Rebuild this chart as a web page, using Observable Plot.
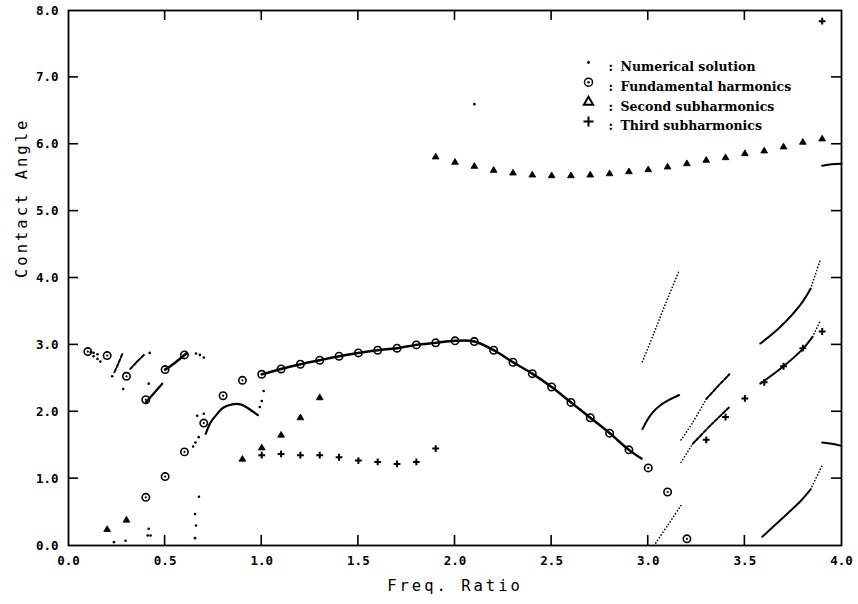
<!DOCTYPE html>
<html><head><meta charset="utf-8">
<script src="https://cdn.jsdelivr.net/npm/d3@7"></script>
<script src="https://cdn.jsdelivr.net/npm/@observablehq/plot@0.6"></script>
<style>body{margin:0;background:#fff}</style>
</head><body><div id="chart"></div>
<script>
// ---- tick values ----
const xTickValues = [0, 0.5, 1, 1.5, 2, 2.5, 3, 3.5, 4];
const yTickValues = [0, 1, 2, 3, 4, 5, 6, 7, 8];
const xInnerTicks = [0.5, 1, 1.5, 2, 2.5, 3, 3.5];
const yInnerTicks = [1, 2, 3, 4, 5, 6, 7];
const xTitle = "Freq. Ratio";
const yTitle = "Contact Angle";
const legendLabels = ["Numerical solution", "Fundamental harmonics", "Second subharmonics", "Third subharmonics"];

// ---- Fundamental harmonics (circles) ----
const fundamental = [
  [0.1,2.90],[0.2,2.84],[0.3,2.53],[0.4,2.18],[0.5,2.63],[0.6,2.85],
  [0.4,0.72],[0.5,1.03],[0.6,1.40],[0.7,1.83],[0.8,2.24],[0.9,2.47],
  [1.0,2.56],[1.1,2.64],[1.2,2.71],[1.3,2.77],[1.4,2.83],[1.5,2.88],[1.6,2.92],
  [1.7,2.95],[1.8,3.00],[1.9,3.03],[2.0,3.06],[2.1,3.05],[2.2,2.92],[2.3,2.74],
  [2.4,2.57],[2.5,2.37],[2.6,2.14],[2.7,1.91],[2.8,1.68],[2.9,1.43],[3.0,1.16],
  [3.1,0.80],[3.2,0.10]
];

// ---- Second subharmonics (triangles) ----
const secondSub = [
  [0.2,0.24],[0.3,0.38],[0.9,1.29],[1.0,1.46],[1.1,1.65],[1.2,1.91],[1.3,2.21],
  [1.9,5.81],[2.0,5.73],[2.1,5.67],[2.2,5.61],[2.3,5.57],[2.4,5.54],[2.5,5.53],
  [2.6,5.53],[2.7,5.54],[2.8,5.56],[2.9,5.59],[3.0,5.62],[3.1,5.66],[3.2,5.71],
  [3.3,5.76],[3.4,5.80],[3.5,5.86],[3.6,5.90],[3.7,5.96],[3.8,6.03],[3.9,6.08]
];

// ---- Third subharmonics (plus) ----
const thirdSub = [
  [1.0,1.35],[1.1,1.37],[1.2,1.35],[1.3,1.35],[1.4,1.32],[1.5,1.27],[1.6,1.25],
  [1.7,1.22],[1.8,1.25],[1.9,1.45],
  [3.3,1.58],[3.4,1.92],[3.5,2.20],[3.6,2.44],[3.7,2.68],[3.8,2.95],[3.9,3.20],
  [3.9,7.84]
];

// ---- Numerical solution: dense (solid-looking) runs ----
const numMain = [
  [1.0,2.56],[1.1,2.64],[1.2,2.71],[1.3,2.77],[1.4,2.83],[1.5,2.88],[1.6,2.92],
  [1.7,2.95],[1.8,3.00],[1.9,3.03],[2.0,3.06],[2.1,3.05],[2.2,2.92],[2.3,2.74],
  [2.4,2.57],[2.5,2.37],[2.6,2.14],[2.7,1.91],[2.8,1.68],[2.9,1.43],[2.965,1.30]
];
const numHump = [
  [0.71,1.67],[0.735,1.84],[0.77,1.97],[0.80,2.06],[0.847,2.11],[0.89,2.11],
  [0.925,2.06],[0.96,1.99],[0.98,1.95]
];
const numBranch05 = [[0.50,2.63],[0.55,2.73],[0.61,2.87]];
const numBranch04 = [[0.40,2.14],[0.44,2.27],[0.485,2.42]];
const numBranch03 = [[0.32,2.64],[0.355,2.75],[0.39,2.85]];
const numBranch02 = [[0.278,2.86],[0.256,2.71],[0.234,2.57]];
const numR1 = [[2.97,1.74],[2.994,1.87],[3.02,1.98],[3.06,2.09],[3.11,2.18],[3.16,2.25]];
const numR2 = [[3.30,2.19],[3.36,2.38],[3.42,2.56]];
const numR3 = [[3.23,1.52],[3.32,1.79],[3.42,2.07]];
const numR4 = [[3.58,3.02],[3.68,3.26],[3.79,3.61],[3.84,3.84]];
const numR5 = [[3.58,2.42],[3.70,2.68],[3.80,2.94],[3.85,3.12]];
const numR6 = [[3.59,0.13],[3.68,0.37],[3.79,0.67],[3.84,0.84]];
const numEdgeLow = [[3.90,1.54],[3.95,1.52],[4.0,1.49]];
const numEdgeHigh = [[3.90,5.68],[3.95,5.70],[4.0,5.71]];

// ---- Numerical solution: sparse dotted runs ----
const numD1 = [[2.97,2.75],[3.03,3.18],[3.09,3.62],[3.16,4.11]];
const numD2 = [[3.03,0.0],[3.10,0.30],[3.17,0.60]];
const numD3 = [[3.17,1.58],[3.23,1.84],[3.30,2.19]];
const numD4 = [[3.17,1.245],[3.23,1.52]];
const numD5 = [[3.84,3.84],[3.89,4.27]];
const numD6 = [[3.85,3.12],[3.89,3.36]];
const numD7 = [[3.84,0.84],[3.90,1.20]];

// ---- Numerical solution: isolated dots ----
const numDots = [
  [0.115,2.89],[0.13,2.88],[0.15,2.86],[0.13,2.83],[0.15,2.79],[0.165,2.75],
  [0.226,2.53],[0.283,2.34],[0.42,2.88],[0.415,2.42],
  [0.66,2.87],[0.68,2.85],[0.70,2.81],
  [0.645,1.48],[0.657,1.54],[0.674,1.62],[0.666,1.94],[0.70,1.97],
  [0.99,2.07],[1.00,2.16],[1.01,2.31],
  [0.235,0.05],[0.295,0.07],[0.415,0.25],[0.41,0.15],[0.425,0.15],
  [0.655,0.11],[0.66,0.30],[0.655,0.47],[0.675,0.73],
  [2.10,6.60]
];

// ---- layout ----
const W = 858, H = 604, mL = 68, mR = 17, mT = 10, mB = 59;
const xDomain = [0, 4], yDomain = [0, 8];
const tickLen = 10;

const plusSym = {draw(ctx, size) { const r = Math.sqrt(size / Math.PI); ctx.moveTo(-r, 0); ctx.lineTo(r, 0); ctx.moveTo(0, -r); ctx.lineTo(0, r); }};
const triSym = {draw(ctx, size) { const r = Math.sqrt(size / Math.PI); ctx.moveTo(0, -r * 1.1); ctx.lineTo(r, r * 0.6); ctx.lineTo(-r, r * 0.6); ctx.closePath(); }};

const X = d => d[0], Y = d => d[1];
const solid = (data, w = 2.2) => Plot.line(data, {x: X, y: Y, stroke: "black", strokeWidth: w, curve: "catmull-rom"});
const dotted = (data) => Plot.line(data, {x: X, y: Y, stroke: "black", strokeWidth: 1.7, strokeDasharray: "0 3.2", strokeLinecap: "round", curve: "catmull-rom"});
const dashed = (data) => Plot.line(data, {x: X, y: Y, stroke: "black", strokeWidth: 2, strokeDasharray: "3.5 1.8", curve: "catmull-rom"});

const serif = "'DejaVu Serif', serif";
const mono = "'DejaVu Sans Mono', monospace";

const legendMarks = [];
legendLabels.forEach((lab, i) => {
  const dy = 52 + i * 19.7;
  const base = {frameAnchor: "top-left", dy};
  if (i === 0) legendMarks.push(Plot.dot([lab], {...base, dx: 520, r: 1.4, fill: "black"}));
  if (i === 1) {
    legendMarks.push(Plot.dot([lab], {...base, dx: 520, r: 4, fill: "none", stroke: "black", strokeWidth: 1.5}));
    legendMarks.push(Plot.dot([lab], {...base, dx: 520, r: 1.2, fill: "black"}));
  }
  if (i === 2) legendMarks.push(Plot.dot([lab], {...base, dx: 520, r: 4.6, symbol: triSym, fill: "none", stroke: "black", strokeWidth: 2}));
  if (i === 3) legendMarks.push(Plot.dot([lab], {...base, dx: 520, r: 5, symbol: plusSym, fill: "none", stroke: "black", strokeWidth: 2}));
  legendMarks.push(Plot.text([":"], {...base, dx: 540, text: d => d, fontFamily: serif, fontWeight: "bold", fontSize: 12.5, fill: "black"}));
  legendMarks.push(Plot.text([lab], {...base, dx: 552, text: d => d, textAnchor: "start", fontFamily: serif, fontWeight: "bold", fontSize: 12.5, fill: "black"}));
});

const chart = Plot.plot({
  width: W, height: H,
  marginLeft: mL, marginRight: mR, marginTop: mT, marginBottom: mB,
  style: {background: "white", color: "black", fontFamily: mono},
  x: {domain: xDomain, label: null},
  y: {domain: yDomain, label: null},
  marks: [
    Plot.frame({stroke: "black", strokeWidth: 1.8}),
    Plot.axisX(xTickValues, {tickSize: 0, tickPadding: 11, tickFormat: d3.format(".1f"), fontSize: 12.5, fontWeight: "bold", fontFamily: mono, fill: "black"}),
    Plot.axisY(yTickValues, {tickSize: 0, tickPadding: 10, tickFormat: d3.format(".1f"), fontSize: 12.5, fontWeight: "bold", fontFamily: mono, fill: "black"}),
    Plot.text([xTitle], {text: d => d, frameAnchor: "bottom", dy: 45, fontSize: 15.5, fontFamily: mono, fill: "black"}),
    Plot.text([yTitle], {text: d => d, frameAnchor: "left", dx: -46, rotate: -90, fontSize: 15.5, fontFamily: mono, fill: "black"}),
    // numerical solution
    solid(numMain, 2.5), solid(numHump, 2.2), solid(numBranch05, 2.6), solid(numBranch04, 2.2),
    dashed(numBranch03), dashed(numBranch02),
    solid(numR1, 2), dashed(numR2), dashed(numR3), solid(numR4, 2), solid(numR5, 2), solid(numR6, 2),
    solid(numEdgeLow, 2), solid(numEdgeHigh, 2),
    dotted(numD1), dotted(numD2), dotted(numD3), dotted(numD4), dotted(numD5), dotted(numD6), dotted(numD7),
    Plot.dot(numDots, {x: X, y: Y, r: 1.3, fill: "black"}),
    // fundamental harmonics
    Plot.dot(fundamental, {x: X, y: Y, r: 3.7, fill: "none", stroke: "black", strokeWidth: 1.6}),
    Plot.dot(fundamental, {x: X, y: Y, r: 1.1, fill: "black"}),
    // second subharmonics
    Plot.dot(secondSub, {x: X, y: Y, r: 3.4, symbol: triSym, fill: "black", stroke: "black", strokeWidth: 0.8}),
    // third subharmonics
    Plot.dot(thirdSub, {x: X, y: Y, r: 3.4, symbol: plusSym, fill: "none", stroke: "black", strokeWidth: 2}),
    ...legendMarks
  ]
});

// inward ticks on all four sides, placed with the chart's own x / y scales
const sx = chart.scale("x"), sy = chart.scale("y");
const gTicks = d3.select(chart).append("g").attr("stroke", "black").attr("stroke-width", 1.6);
const yBot = sy.apply(yDomain[0]), yTop = sy.apply(yDomain[1]);
const xLft = sx.apply(xDomain[0]), xRgt = sx.apply(xDomain[1]);
xInnerTicks.forEach(v => {
  const px = sx.apply(v);
  gTicks.append("line").attr("x1", px).attr("x2", px).attr("y1", yBot).attr("y2", yBot - tickLen);
  gTicks.append("line").attr("x1", px).attr("x2", px).attr("y1", yTop).attr("y2", yTop + tickLen);
});
yInnerTicks.forEach(v => {
  const py = sy.apply(v);
  gTicks.append("line").attr("y1", py).attr("y2", py).attr("x1", xLft).attr("x2", xLft + tickLen);
  gTicks.append("line").attr("y1", py).attr("y2", py).attr("x1", xRgt).attr("x2", xRgt - tickLen);
});

chart.querySelectorAll("text").forEach(t => {
  if (t.textContent === xTitle || t.textContent === yTitle) t.setAttribute("letter-spacing", "3");
});
document.getElementById("chart").appendChild(chart);
</script>
</body></html>
